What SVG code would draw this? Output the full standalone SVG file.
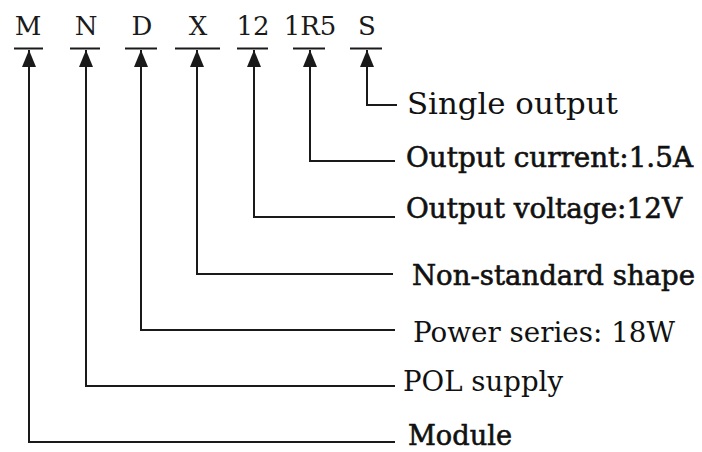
<svg xmlns="http://www.w3.org/2000/svg" width="702" height="452" viewBox="0 0 702 452">
<style>
.code{font-family:"DejaVu Serif","Liberation Serif",serif;font-size:26px;fill:#1a1a1a;text-anchor:middle}
.lbl{font-family:"DejaVu Serif","Liberation Serif",serif;font-size:27px;fill:#111}
.big{font-size:30px}
.b{stroke:#111;stroke-width:0.6}
.ul{stroke:#1a1a1a;stroke-width:2}
.conn{fill:none;stroke:#1a1a1a;stroke-width:2;marker-start:url(#arr)}
</style>
<defs>
<marker id="arr" markerUnits="userSpaceOnUse" markerWidth="20" markerHeight="16" viewBox="0 -8 18 16" refX="17" refY="0" orient="auto-start-reverse">
<path d="M0,-7 L17,0 L0,7 z" fill="#1a1a1a"/>
</marker>
</defs>
<rect width="702" height="452" fill="#fff"/>
<g id="code-M"><text class="code" x="28" y="35">M</text><line class="ul" x1="14" y1="48.5" x2="43" y2="48.5"/></g>
<g id="code-N"><text class="code" x="86" y="35">N</text><line class="ul" x1="70" y1="48.5" x2="100" y2="48.5"/></g>
<g id="code-D"><text class="code" x="142" y="35">D</text><line class="ul" x1="125" y1="48.5" x2="157" y2="48.5"/></g>
<g id="code-X"><text class="code" x="198" y="35">X</text><line class="ul" x1="175" y1="48.5" x2="220" y2="48.5"/></g>
<g id="code-12"><text class="code" x="253" y="35">12</text><line class="ul" x1="237" y1="48.5" x2="268" y2="48.5"/></g>
<g id="code-1R5"><text class="code" x="310" y="35">1R5</text><line class="ul" x1="293" y1="48.5" x2="325" y2="48.5"/></g>
<g id="code-S"><text class="code" x="367" y="35">S</text><line class="ul" x1="350" y1="48.5" x2="382" y2="48.5"/></g>
<g id="connectors">
<path class="conn" d="M367,50 V105 H397"/>
<path class="conn" d="M310,50 V161 H395"/>
<path class="conn" d="M254,50 V217 H395"/>
<path class="conn" d="M197,50 V274 H393"/>
<path class="conn" d="M141,50 V330 H395"/>
<path class="conn" d="M86,50 V386 H395"/>
<path class="conn" d="M29,50 V442 H395"/>
</g>
<g id="label-single"><text class="lbl big" x="407" y="114" textLength="211" lengthAdjust="spacingAndGlyphs">Single output</text></g>
<g id="label-current"><text class="lbl b" x="406" y="167" textLength="287" lengthAdjust="spacingAndGlyphs">Output current:1.5A</text></g>
<g id="label-voltage"><text class="lbl b" x="406" y="218" textLength="276" lengthAdjust="spacingAndGlyphs">Output voltage:12V</text></g>
<g id="label-shape"><text class="lbl b" x="412" y="285" textLength="283" lengthAdjust="spacingAndGlyphs">Non-standard shape</text></g>
<g id="label-power"><text class="lbl" x="413" y="342" textLength="262" lengthAdjust="spacingAndGlyphs">Power series: 18W</text></g>
<g id="label-pol"><text class="lbl" x="403" y="391" textLength="160" lengthAdjust="spacingAndGlyphs">POL supply</text></g>
<g id="label-module"><text class="lbl b" x="408" y="445" textLength="104" lengthAdjust="spacingAndGlyphs">Module</text></g>
</svg>
